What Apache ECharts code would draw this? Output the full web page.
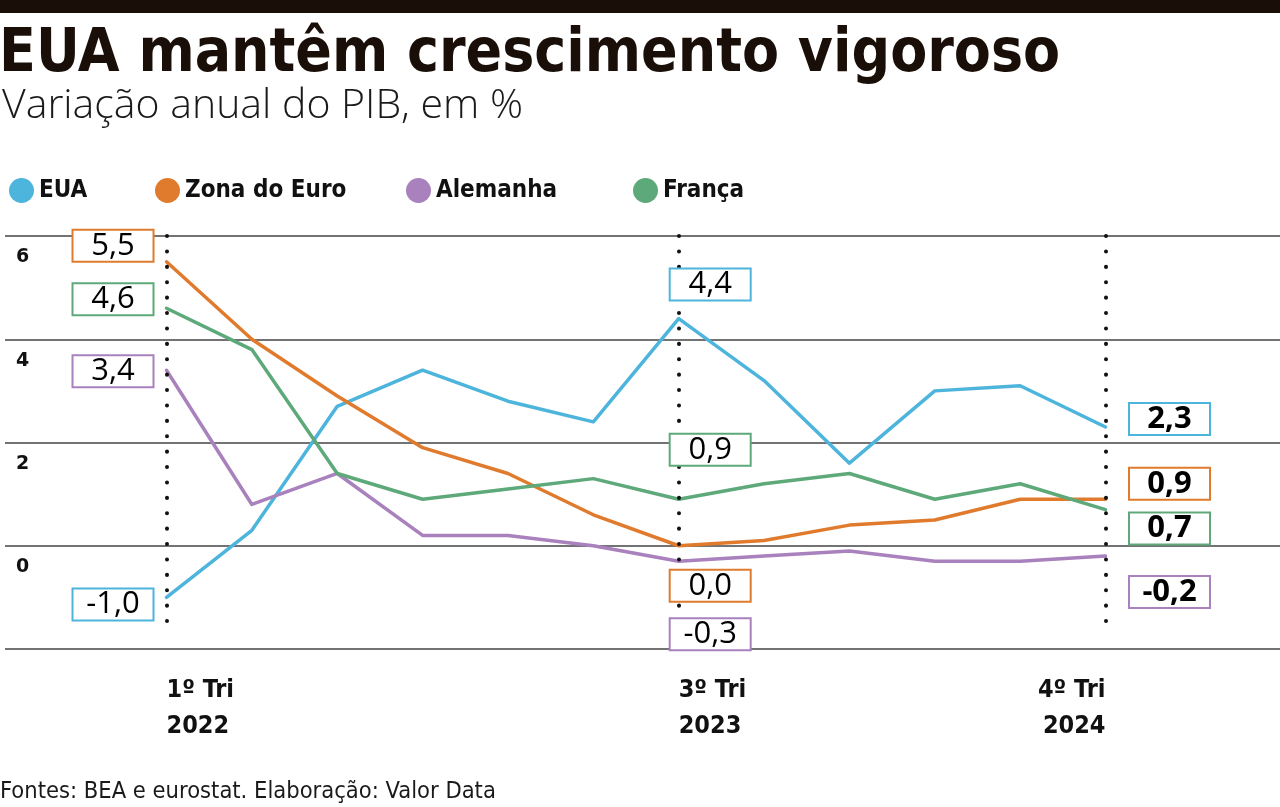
<!DOCTYPE html>
<html>
<head>
<meta charset="utf-8">
<script src="https://cdn.jsdelivr.net/npm/echarts@6/dist/echarts.min.js"></script>
<style>
html,body{margin:0;padding:0;background:#fff;}
#chart{width:1280px;height:807px;}
</style>
</head>
<body>
<div id="chart"></div>
<script>
// ---- data ----
const quarters = ['1º Tri 2022','2º Tri 2022','3º Tri 2022','4º Tri 2022',
                  '1º Tri 2023','2º Tri 2023','3º Tri 2023','4º Tri 2023',
                  '1º Tri 2024','2º Tri 2024','3º Tri 2024','4º Tri 2024'];
const labeledQuarters = [0, 6, 11];
const eua       = [-1.0, 0.3, 2.7, 3.4, 2.8, 2.4, 4.4, 3.2, 1.6, 3.0, 3.1, 2.3];
const zonaEuro  = [5.5, 4.0, 2.9, 1.9, 1.4, 0.6, 0.0, 0.1, 0.4, 0.5, 0.9, 0.9];
const alemanha  = [3.4, 0.8, 1.4, 0.2, 0.2, 0.0, -0.3, -0.2, -0.1, -0.3, -0.3, -0.2];
const franca    = [4.6, 3.8, 1.4, 0.9, 1.1, 1.3, 0.9, 1.2, 1.4, 0.9, 1.2, 0.7];
const yTicks    = [-2, 0, 2, 4, 6];

// ---- styles ----
const seriesDefs = [
  {name:'EUA',          values:eua,      color:'#4db4dc', legendLeft:4},
  {name:'Zona do Euro', values:zonaEuro, color:'#e07b2e', legendLeft:150},
  {name:'Alemanha',     values:alemanha, color:'#a881bd', legendLeft:401},
  {name:'França',       values:franca,   color:'#5ea97a', legendLeft:628}
];
// label box offsets (px) relative to the point, per series, per labeled quarter
const labelOffsets = {
  'EUA':          {0:[-53.5, 7],  6:[31.5,-34], 11:[64,-8]},
  'Zona do Euro': {0:[-53.5,-16], 6:[31.5, 40], 11:[64,-15.5]},
  'Alemanha':     {0:[-53.5, 1],  6:[31.5, 73], 11:[64, 36]},
  'França':       {0:[-53.5,-9],  6:[31.5,-49.5], 11:[64, 19]}
};
const fmt = v => v.toFixed(1).replace('.', ',');

const condensedBold = "'DejaVu Sans Condensed', 'DejaVu Sans'";
const chart = echarts.init(document.getElementById('chart'), null, {renderer:'canvas'});

const series = [];
seriesDefs.forEach(d => {
  series.push({
    name: d.name, type: 'line', z: 2,
    data: d.values.map((v, i) => [i, v]),
    showSymbol: false, symbol: 'none',
    lineStyle: {color: d.color, width: 3.5, cap:'round', join:'round'},
    itemStyle: {color: d.color},
    emphasis: {disabled: true},
    silent: true
  });
});
// dotted vertical reference lines
series.push({
  name: 'ref', type: 'line', data: [], z: 3, silent: true,
  markLine: {
    symbol: ['none','none'], silent: true,
    label: {show:false},
    lineStyle: {color:'#111', type:[0.1, 15.3], width:4, cap:'round', opacity:1},
    data: labeledQuarters.map(i => [{coord:[i, 6]}, {coord:[i, -1.75]}])
  }
});
// value label boxes
seriesDefs.forEach(d => {
  series.push({
    name: d.name + ' rótulo', type: 'scatter', z: 5, silent: true,
    symbolSize: 1, itemStyle: {color: 'rgba(0,0,0,0)', opacity: 1},
    emphasis: {disabled: true},
    data: labeledQuarters.map(i => ({
      value: [i, d.values[i]],
      label: {
        show: true, position: 'inside', opacity: 1,
        offset: labelOffsets[d.name][i],
        formatter: p => fmt(p.value[1]),
        backgroundColor: '#fff', borderColor: d.color, borderWidth: 2,
        width: 79, height: 30, lineHeight: 30, padding: 0,
        align: 'center', verticalAlign: 'middle',
        fontSize: 31, color: '#000',
        fontFamily: "'Open Sans', 'DejaVu Sans'",
        fontWeight: i === 11 ? 'bold' : 'normal'
      }
    }))
  });
});

const xMin = -1.892, xMax = 13.044;
const xLabel = v => {
  const parts = quarters[v].split(' ');
  return parts[0] + ' ' + parts[1] + '\n' + parts[2];
};
const xLabelStyle = {margin:23, lineHeight:36, fontFamily:condensedBold, fontWeight:'bold', fontSize:25, color:'#111'};

const option = {
  backgroundColor: '#fff',
  animation: false,
  graphic: [{type:'rect', left:0, top:0, shape:{width:1280, height:13}, style:{fill:'#1a0f08'}}],
  title: [
    {text:'EUA mantêm crescimento vigoroso', left:-1, top:25, padding:0,
     textStyle:{fontFamily:condensedBold, fontWeight:'bold', fontSize:60, color:'#1a0f08'}},
    {text:'Variação anual do PIB, em %', left:2, top:86, padding:0,
     textStyle:{fontFamily:"'Open Sans', 'DejaVu Sans'", fontWeight:300, fontSize:41, color:'#1a1a1a'}},
    {text:'Fontes: BEA e eurostat. Elaboração: Valor Data', left:0, top:780, padding:0,
     textStyle:{fontFamily:"'DejaVu Sans Condensed', 'DejaVu Sans'", fontWeight:'normal', fontSize:23.5, color:'#1a1a1a'}}
  ],
  legend: seriesDefs.map(d => ({
    data: [d.name], left: d.legendLeft, top: 173,
    icon: 'circle', itemWidth: 25, itemHeight: 25, selectedMode: false,
    textStyle: {fontFamily: condensedBold, fontWeight: 'bold', fontSize: 24, color: '#111', padding:[0,0,0,0]}
  })),
  grid: {left:5, right:0, top:236, bottom:158, containLabel:false},
  xAxis: [
    {type:'value', min:xMin, max:xMax,
     axisLine:{show:false}, axisTick:{show:false}, splitLine:{show:false},
     axisLabel:Object.assign({show:true, customValues:[0, 6], formatter: v => xLabel(v), align:'left'}, xLabelStyle)},
    {type:'value', min:xMin, max:xMax, position:'bottom',
     axisLine:{show:false}, axisTick:{show:false}, splitLine:{show:false},
     axisLabel:Object.assign({show:true, customValues:[11], formatter: v => xLabel(v), align:'right'}, xLabelStyle)}
  ],
  yAxis: {
    type:'value', min:yTicks[0], max:yTicks[yTicks.length-1], interval:2,
    axisLine:{show:false}, axisTick:{show:false},
    splitLine:{show:true, lineStyle:{color:'#444', width:1.5}},
    axisLabel:{inside:true, margin:11, align:'left', verticalAlign:'top', padding:[12,0,0,0],
      formatter: v => (v === yTicks[0] ? '' : String(v)),
      fontFamily:"'DejaVu Sans', sans-serif", fontWeight:'bold', fontSize:19, color:'#111'}
  },
  series: series
};
chart.setOption(option);
</script>
</body>
</html>
